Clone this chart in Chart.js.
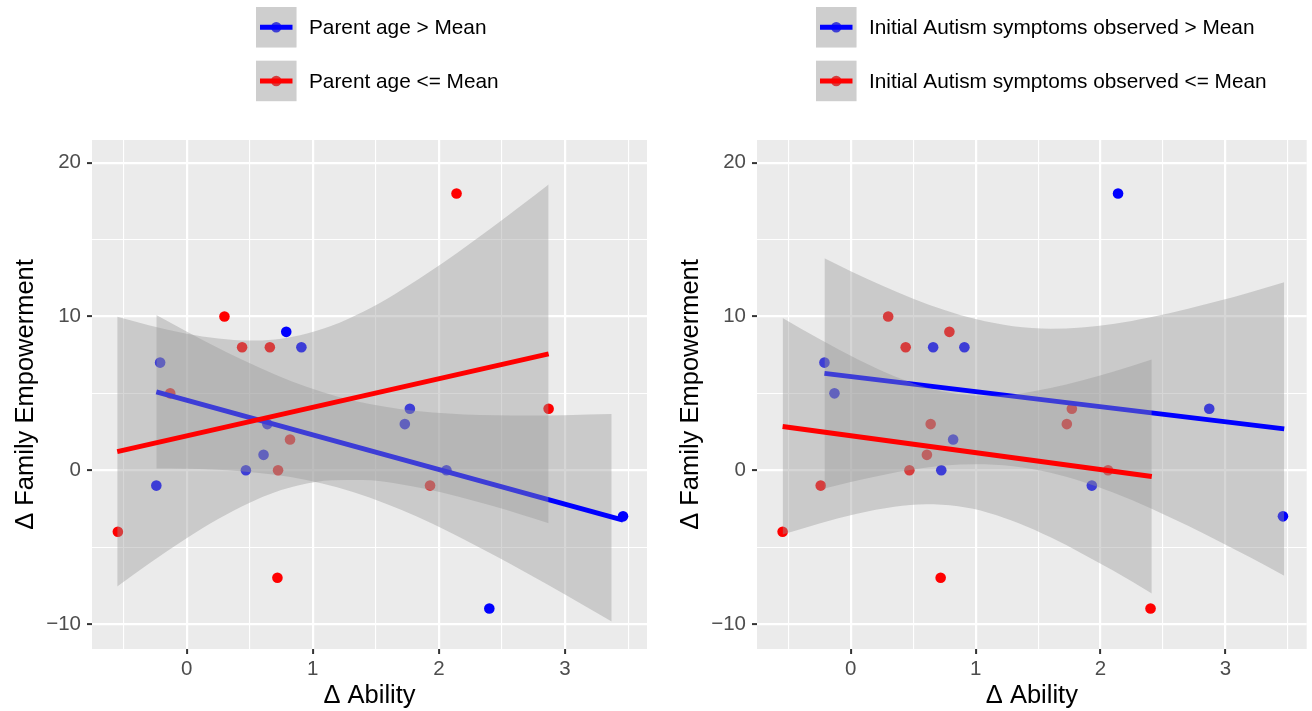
<!DOCTYPE html>
<html>
<head>
<meta charset="utf-8">
<script src="https://cdn.jsdelivr.net/npm/chart.js@4.4.1/dist/chart.umd.min.js"></script>
<style>
html, body { margin: 0; padding: 0; background: #ffffff; width: 1312px; height: 711px; overflow: hidden; }
#c1 { position: absolute; left: 0; top: 0; }
#c2 { position: absolute; left: 665px; top: 0; }
</style>
</head>
<body>
<canvas id="c1" width="660" height="711"></canvas>
<canvas id="c2" width="647" height="711"></canvas>
<script>
// ---------- data ----------
const abilityDelta = [-0.545, -0.24, -0.21, -0.13, 0.30, 0.44, 0.47, 0.61, 0.64, 0.66, 0.725, 0.72,
                      0.79, 0.82, 0.91, 1.73, 1.77, 1.93, 2.06, 2.14, 2.40, 2.87, 3.46];
const empowermentDelta = [-4, -1, 7, 5, 10, 8, 0, 1, 3, 8, 0, -7,
                          9, 2, 8, 3, 4, -1, 0, 18, -9, 4, -3];
const parentAgeGroup = ['low', 'high', 'high', 'low', 'low', 'low', 'high', 'high', 'high', 'low', 'low', 'low',
                        'high', 'low', 'high', 'high', 'high', 'low', 'high', 'low', 'high', 'low', 'high'];
const symptomsGroup = ['low', 'low', 'high', 'high', 'low', 'low', 'low', 'low', 'low', 'high', 'high', 'low',
                       'low', 'high', 'high', 'low', 'low', 'high', 'low', 'high', 'low', 'high', 'high'];

const parentAgeLabels = ['Parent age > Mean', 'Parent age <= Mean'];
const symptomsLabels = ['Initial Autism symptoms observed > Mean', 'Initial Autism symptoms observed <= Mean'];

const xTickValues = [-0.5, 0, 0.5, 1, 1.5, 2, 2.5, 3, 3.5];
const yTickValues = [-10, -5, 0, 5, 10, 15, 20];

// fitted lines (endpoints)
const ageHighLineX = [-0.24, 3.46];
const ageHighLineY = [5.10, -3.25];
const ageLowLineX = [-0.55, 2.87];
const ageLowLineY = [1.21, 7.57];
const symHighLineX = [-0.21, 3.47];
const symHighLineY = [6.30, 2.69];
const symLowLineX = [-0.545, 2.41];
const symLowLineY = [2.85, -0.41];

// confidence bands
const ageHighBandX = [-0.24, 0, 0.2, 0.45, 0.7, 0.95, 1.2, 1.45, 1.7, 1.95, 2.2, 2.45, 2.7, 3.0, 3.37];
const ageHighBandUpper = [10.09, 9.02, 8.16, 7.15, 6.23, 5.43, 4.78, 4.30, 3.96, 3.75, 3.63, 3.57, 3.56, 3.58, 3.65];
const ageHighBandLower = [0.11, 0.09, 0.04, -0.09, -0.30, -0.63, -1.12, -1.77, -2.57, -3.49, -4.51, -5.58, -6.70, -8.09, -9.84];

const ageLowBandX = [-0.55, -0.3, 0, 0.25, 0.5, 0.7, 0.9, 1.15, 1.4, 1.65, 1.9, 2.15, 2.4, 2.65, 2.87];
const ageLowBandUpper = [9.98, 9.43, 8.88, 8.57, 8.43, 8.51, 8.78, 9.40, 10.31, 11.45, 12.76, 14.17, 15.66, 17.20, 18.59];
const ageLowBandLower = [-7.56, -6.09, -4.42, -3.17, -2.11, -1.44, -0.97, -0.66, -0.64, -0.85, -1.23, -1.71, -2.27, -2.88, -3.45];

const symHighBandX = [-0.21, 0, 0.25, 0.5, 0.75, 1.0, 1.3, 1.6, 1.85, 2.1, 2.4, 2.7, 2.95, 3.2, 3.47];
const symHighBandUpper = [13.79, 12.95, 12.02, 11.16, 10.42, 9.83, 9.37, 9.21, 9.29, 9.51, 9.95, 10.50, 11.02, 11.58, 12.23];
const symHighBandLower = [-1.19, -0.77, -0.32, 0.04, 0.30, 0.39, 0.26, -0.17, -0.73, -1.45, -2.47, -3.62, -4.63, -5.68, -6.86];

const symLowBandX = [-0.545, -0.25, 0.05, 0.35, 0.6, 0.86, 1.1, 1.35, 1.6, 1.85, 2.1, 2.41];
const symLowBandUpper = [9.90, 8.53, 7.24, 6.12, 5.40, 4.96, 4.84, 4.98, 5.34, 5.83, 6.41, 7.20];
const symLowBandLower = [-4.19, -3.47, -2.84, -2.38, -2.22, -2.35, -2.76, -3.46, -4.36, -5.41, -6.53, -8.02];

// ---------- styling ----------
const FONT = '"Liberation Sans", Arial, Helvetica, sans-serif';
const BLUE = '#0000FF';
const RED = '#FF0000';
const BAND = 'rgba(153,153,153,0.4)';
const PT_R = 5.3;
const LINE_W = 5;

const zip = (xs, ys) => xs.map((x, i) => ({ x: x, y: ys[i] }));
const pick = (groups, g) => abilityDelta
  .map((x, i) => ({ x: x, y: empowermentDelta[i], g: groups[i] }))
  .filter(p => p.g === g)
  .map(p => ({ x: p.x, y: p.y }));

const panelBg = {
  id: 'panelBg',
  beforeDraw(chart) {
    const a = chart.chartArea, ctx = chart.ctx;
    ctx.save();
    ctx.fillStyle = '#EBEBEB';
    ctx.fillRect(a.left, a.top, a.right - a.left, a.bottom - a.top);
    ctx.restore();
  }
};

const ggLegend = {
  id: 'ggLegend',
  afterDraw(chart, args, opts) {
    const ctx = chart.ctx;
    opts.items.forEach((it, i) => {
      const s = opts.box;
      const x = opts.x, y = opts.y + i * opts.rowGap;
      ctx.save();
      ctx.fillStyle = '#F2F2F2';
      ctx.fillRect(x, y, s, s);
      ctx.beginPath();
      ctx.arc(x + s / 2, y + s / 2, PT_R, 0, Math.PI * 2);
      ctx.fillStyle = it.color;
      ctx.fill();
      ctx.fillStyle = BAND;
      ctx.fillRect(x, y, s, s);
      ctx.beginPath();
      ctx.moveTo(x + 4, y + s / 2);
      ctx.lineTo(x + s - 4, y + s / 2);
      ctx.strokeStyle = it.color;
      ctx.lineWidth = LINE_W;
      ctx.stroke();
      ctx.fillStyle = '#000000';
      ctx.font = '20.8px ' + FONT;
      ctx.textBaseline = 'middle';
      ctx.textAlign = 'left';
      ctx.fillText(it.label, x + s + opts.gap, y + s / 2 + 1);
      ctx.restore();
    });
  }
};

function makePanel(canvasId, groups, labels, lines, bands, legendX, padRight, yTitlePad) {
  const datasets = [
    { data: pick(groups, 'high'), showLine: false, pointRadius: PT_R, pointHoverRadius: PT_R,
      pointBackgroundColor: BLUE, pointBorderColor: BLUE, pointBorderWidth: 0, order: 10 },
    { data: pick(groups, 'low'), showLine: false, pointRadius: PT_R, pointHoverRadius: PT_R,
      pointBackgroundColor: RED, pointBorderColor: RED, pointBorderWidth: 0, order: 10 },
    // high group band + line
    { data: zip(bands.highX, bands.highLower), borderWidth: 0, borderColor: 'rgba(0,0,0,0)', pointRadius: 0,
      cubicInterpolationMode: 'monotone', fill: false, order: 9 },
    { data: zip(bands.highX, bands.highUpper), borderWidth: 0, borderColor: 'rgba(0,0,0,0)', pointRadius: 0,
      cubicInterpolationMode: 'monotone', fill: '-1', backgroundColor: BAND, order: 9 },
    { data: zip(lines.highX, lines.highY), borderColor: BLUE, borderWidth: LINE_W, pointRadius: 0,
      tension: 0, fill: false, order: 8 },
    // low group band + line
    { data: zip(bands.lowX, bands.lowLower), borderWidth: 0, borderColor: 'rgba(0,0,0,0)', pointRadius: 0,
      cubicInterpolationMode: 'monotone', fill: false, order: 7 },
    { data: zip(bands.lowX, bands.lowUpper), borderWidth: 0, borderColor: 'rgba(0,0,0,0)', pointRadius: 0,
      cubicInterpolationMode: 'monotone', fill: '-1', backgroundColor: BAND, order: 7 },
    { data: zip(lines.lowX, lines.lowY), borderColor: RED, borderWidth: LINE_W, pointRadius: 0,
      tension: 0, fill: false, order: 6 }
  ];

  return new Chart(document.getElementById(canvasId), {
    type: 'line',
    data: { datasets: datasets },
    plugins: [panelBg, ggLegend],
    options: {
      responsive: false,
      animation: false,
      devicePixelRatio: 1,
      events: [],
      layout: { padding: { left: 0, top: 140, right: padRight, bottom: 0 } },
      plugins: {
        legend: { display: false },
        tooltip: { enabled: false },
        ggLegend: {
          x: legendX, y: 7, box: 40.5, rowGap: 53.7, gap: 12.5,
          items: [ { label: labels[0], color: BLUE }, { label: labels[1], color: RED } ]
        }
      },
      scales: {
        x: {
          type: 'linear', min: -0.75, max: 3.65,
          afterBuildTicks: s => { s.ticks = xTickValues.map(v => ({ value: v })); },
          afterFit: s => { s.height = 62; },
          border: { display: false },
          grid: {
            color: '#FFFFFF',
            lineWidth: c => (c.tick && Number.isInteger(c.tick.value)) ? 2.2 : 1.1,
            drawTicks: true, tickLength: 5, tickWidth: 2,
            tickColor: c => (c.tick && Number.isInteger(c.tick.value)) ? '#333333' : 'rgba(0,0,0,0)'
          },
          ticks: {
            autoSkip: false, maxRotation: 0, minRotation: 0, padding: 3,
            color: '#4D4D4D', font: { family: FONT, size: 20.5 },
            callback: v => Number.isInteger(v) ? String(v) : ''
          },
          title: { display: true, text: '\u0394 Ability', color: '#000000',
                   font: { family: FONT, size: 25.5 }, padding: 0 }
        },
        y: {
          type: 'linear', min: -11.63, max: 21.48,
          afterBuildTicks: s => { s.ticks = yTickValues.map(v => ({ value: v })); },
          afterFit: s => { s.width = 92; },
          border: { display: false },
          grid: {
            color: '#FFFFFF',
            lineWidth: c => (c.tick && c.tick.value % 10 === 0) ? 2.2 : 1.1,
            drawTicks: true, tickLength: 5, tickWidth: 2,
            tickColor: c => (c.tick && c.tick.value % 10 === 0) ? '#333333' : 'rgba(0,0,0,0)'
          },
          ticks: {
            autoSkip: false, padding: 6,
            color: '#4D4D4D', font: { family: FONT, size: 20.5 },
            callback: v => (v % 10 === 0) ? (v < 0 ? '\u2212' + Math.abs(v) : String(v)) : ''
          },
          title: { display: true, text: '\u0394 Family Empowerment', color: '#000000',
                   font: { family: FONT, size: 25.5 }, padding: { top: yTitlePad, bottom: 0 } }
        }
      }
    }
  });
}

makePanel('c1', parentAgeGroup, parentAgeLabels,
  { highX: ageHighLineX, highY: ageHighLineY, lowX: ageLowLineX, lowY: ageLowLineY },
  { highX: ageHighBandX, highUpper: ageHighBandUpper, highLower: ageHighBandLower,
    lowX: ageLowBandX, lowUpper: ageLowBandUpper, lowLower: ageLowBandLower },
  256, 13, 11);

makePanel('c2', symptomsGroup, symptomsLabels,
  { highX: symHighLineX, highY: symHighLineY, lowX: symLowLineX, lowY: symLowLineY },
  { highX: symHighBandX, highUpper: symHighBandUpper, highLower: symHighBandLower,
    lowX: symLowBandX, lowUpper: symLowBandUpper, lowLower: symLowBandLower },
  151, 2, 11);
</script>
</body>
</html>
